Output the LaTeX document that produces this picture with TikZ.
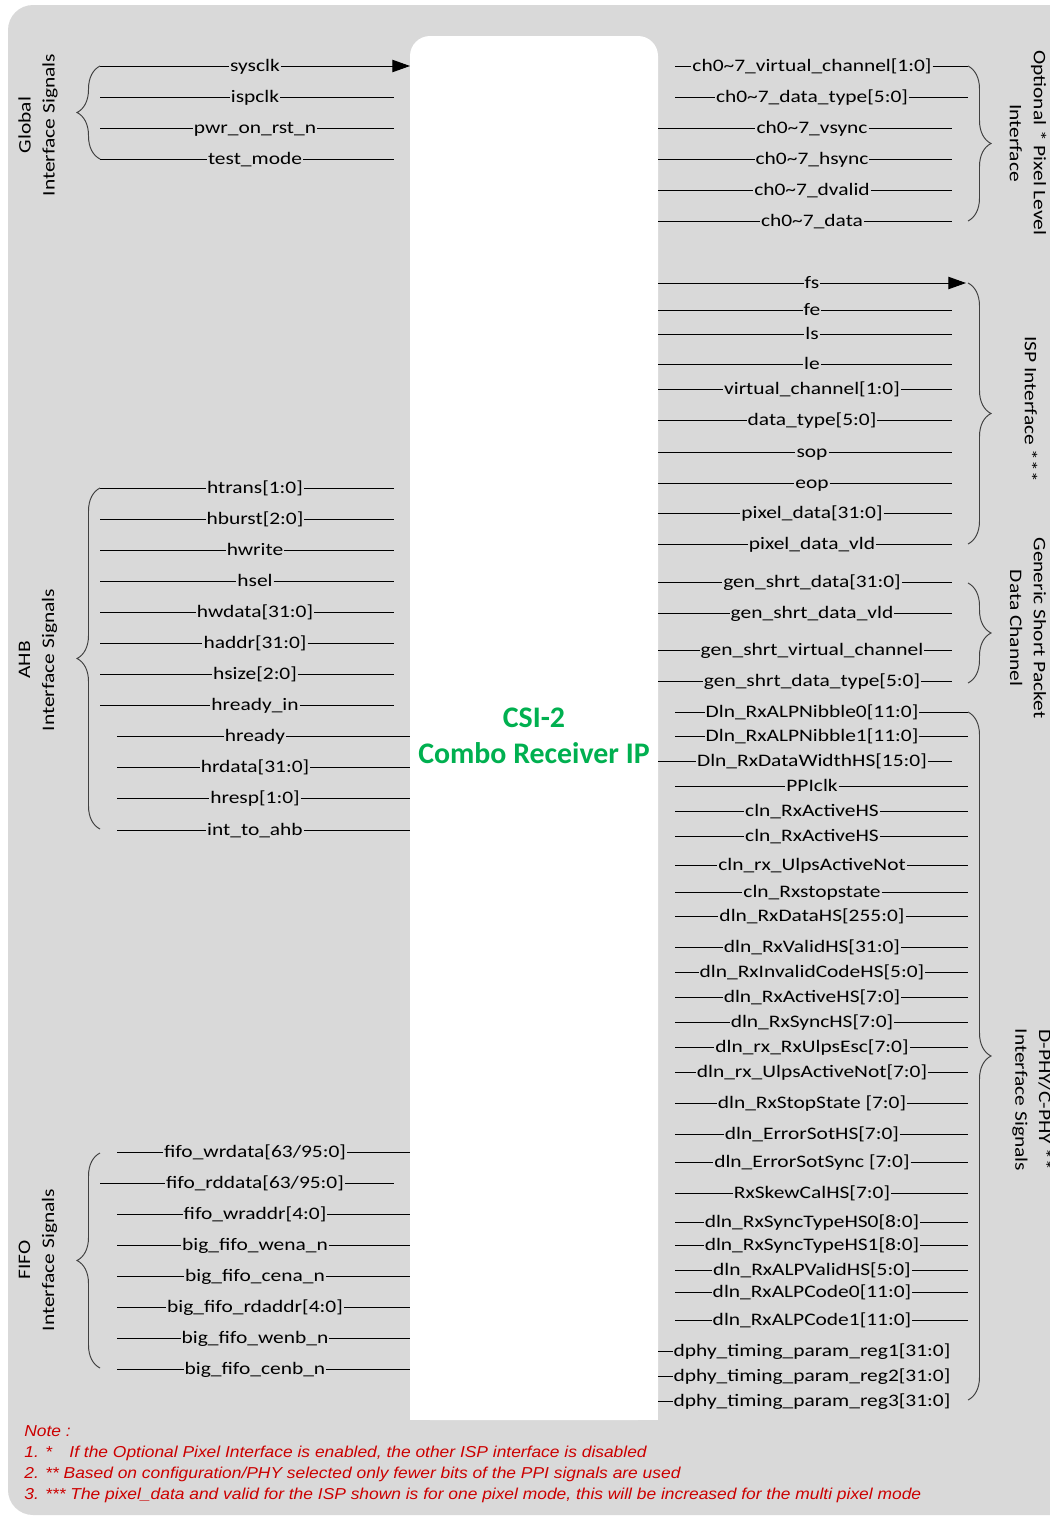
\documentclass[tikz,border=0pt]{standalone}
\usepackage{fontspec}
\setmainfont{Carlito}
\newfontfamily\sigfont[FakeStretch=1.22]{Carlito}
\newfontfamily\notefont[FakeStretch=1.1]{Liberation Sans}
\usetikzlibrary{positioning,arrows.meta,decorations.pathreplacing}

\definecolor{panelgray}{RGB}{217,217,217}
\definecolor{csigreen}{RGB}{0,176,80}
\definecolor{notered}{RGB}{204,0,0}

\begin{document}
\begin{tikzpicture}[x=0.02cm,y=-0.02cm,
    sig/.style={inner xsep=0.4pt,inner ysep=0pt,text height=8pt,text depth=1.2pt,
        font=\sigfont\fontsize{10}{12}\selectfont},
    wire/.style={line width=0.55pt,black},
    sigarrow/.style={wire,-{Triangle[length=10pt,width=7pt]}},
    grplabel/.style={align=center,font=\sigfont\fontsize{10}{13.6}\selectfont},
    lbrace/.style={decorate,decoration={brace,amplitude=0.46cm},black!75,line width=0.55pt},
    note/.style={anchor=base west,inner sep=0pt,text=notered,
        font=\notefont\itshape\fontsize{9}{11}\selectfont}]
    \useasboundingbox (0,0) rectangle (1049,1518);

    % Panel and IP block
    \fill[panelgray,rounded corners=0.5cm] (8,5) rectangle (1090,1515);
    \fill[white,rounded corners=0.4cm] (410,36) rectangle (658,1420);
    \fill[white] (410,1380) rectangle (658,1420);
    \node[font=\bfseries\fontsize{17}{20.5}\selectfont,text=csigreen,align=center] (ip) at (534,736) {CSI-2\\Combo Receiver IP};

    % Global interface signals
    \foreach \y/\txt/\xa/\xb/\tp [count=\i] in {66/sysclk/100/410/sigarrow, 97/ispclk/100/394/wire,
        128/pwr\_on\_rst\_n/100/394/wire, 159/test\_mode/100/394/wire} {
        \coordinate (glbA\i) at (\xa,\y);
        \coordinate (glbB\i) at (\xb,\y);
        \node[sig] (glb\i) at (255,\y) {\txt};
        \draw[wire] (glbA\i) -- (glb\i);
        \draw[\tp] (glb\i) -- (glbB\i);
    }
    \coordinate (glbTop) at (100,66);
    \coordinate (glbBot) at (100,159);
    \draw[lbrace] (glbBot) -- (glbTop);
    \node[grplabel,rotate=90] (glbLbl) at (38,125) {Global\\Interface Signals};

    % AHB interface signals
    \foreach \y/\txt/\xa/\xb [count=\i] in {488/htrans[1:0]/100/394, 519/hburst[2:0]/100/394,
        550/hwrite/100/394, 581/hsel/100/394, 612/hwdata[31:0]/100/394, 643/haddr[31:0]/100/394,
        674/hsize[2:0]/100/394, 705/hready\_in/100/394, 736/hready/117/410,
        767/hrdata[31:0]/117/410, 798/hresp[1:0]/117/410, 830/int\_to\_ahb/117/410} {
        \coordinate (ahbA\i) at (\xa,\y);
        \coordinate (ahbB\i) at (\xb,\y);
        \node[sig] (ahb\i) at (255,\y) {\txt};
        \draw[wire] (ahbA\i) -- (ahb\i) -- (ahbB\i);
    }
    \coordinate (ahbTop) at (100,488);
    \coordinate (ahbBot) at (100,829);
    \draw[lbrace] (ahbBot) -- (ahbTop);
    \node[grplabel,rotate=90] (ahbLbl) at (38,660) {AHB\\Interface Signals};

    % FIFO interface signals
    \foreach \y/\txt/\xa/\xb [count=\i] in {1152/{fifo\_wrdata[63/95:0]}/117/410,
        1183/{fifo\_rddata[63/95:0]}/100/394, 1214/fifo\_wraddr[4:0]/117/410,
        1245/big\_fifo\_wena\_n/117/410, 1276/big\_fifo\_cena\_n/117/410,
        1307/big\_fifo\_rdaddr[4:0]/117/410, 1338/big\_fifo\_wenb\_n/117/410,
        1369/big\_fifo\_cenb\_n/117/410} {
        \coordinate (fifoA\i) at (\xa,\y);
        \coordinate (fifoB\i) at (\xb,\y);
        \node[sig] (fifo\i) at (255,\y) {\txt};
        \draw[wire] (fifoA\i) -- (fifo\i) -- (fifoB\i);
    }
    \coordinate (fifoTop) at (100,1153);
    \coordinate (fifoBot) at (100,1368);
    \draw[lbrace] (fifoBot) -- (fifoTop);
    \node[grplabel,rotate=90] (fifoLbl) at (38,1260) {FIFO\\Interface Signals};

    % Optional pixel level interface
    \foreach \y/\txt/\xa/\xb [count=\i] in {66/ch0\textasciitilde 7\_virtual\_channel[1:0]/675/968,
        97/ch0\textasciitilde 7\_data\_type[5:0]/675/968, 128/ch0\textasciitilde 7\_vsync/658/952,
        159/ch0\textasciitilde 7\_hsync/658/952, 190/ch0\textasciitilde 7\_dvalid/658/952,
        221/ch0\textasciitilde 7\_data/658/952} {
        \coordinate (optA\i) at (\xa,\y);
        \coordinate (optB\i) at (\xb,\y);
        \node[sig] (opt\i) at (812,\y) {\txt};
        \draw[wire] (optA\i) -- (opt\i) -- (optB\i);
    }
    \coordinate (optTop) at (968,66);
    \coordinate (optBot) at (968,221);
    \draw[lbrace] (optTop) -- (optBot);
    \node[grplabel,rotate=-90] (optLbl) at (1028,143) {Optional * Pixel Level\\Interface};

    % ISP interface
    \foreach \y/\txt [count=\i] in {283/fs, 310/fe, 334/ls, 364/le,
        389/virtual\_channel[1:0], 420/data\_type[5:0], 452/sop, 483/eop,
        513/pixel\_data[31:0], 544/pixel\_data\_vld} {
        \coordinate (ispA\i) at (658,\y);
        \coordinate (ispB\i) at (952,\y);
        \node[sig] (isp\i) at (812,\y) {\txt};
        \draw[wire] (ispA\i) -- (isp\i) -- (ispB\i);
    }
    \coordinate (ispTip) at (966,283);
    \draw[sigarrow] (isp1) -- (ispTip);
    \coordinate (ispTop) at (968,283);
    \coordinate (ispBot) at (968,544);
    \draw[lbrace] (ispTop) -- (ispBot);
    \node[grplabel,rotate=-90] (ispLbl) at (1031,409) {ISP Interface ***};

    % Generic short packet data channel
    \foreach \y/\txt [count=\i] in {582/gen\_shrt\_data[31:0], 613/gen\_shrt\_data\_vld,
        650/gen\_shrt\_virtual\_channel, 681/gen\_shrt\_data\_type[5:0]} {
        \coordinate (genA\i) at (658,\y);
        \coordinate (genB\i) at (952,\y);
        \node[sig] (gen\i) at (812,\y) {\txt};
        \draw[wire] (genA\i) -- (gen\i) -- (genB\i);
    }
    \coordinate (genTop) at (968,583);
    \coordinate (genBot) at (968,683);
    \draw[lbrace] (genTop) -- (genBot);
    \node[grplabel,rotate=-90] (genLbl) at (1028,628) {Generic Short Packet\\Data Channel};

    % D-PHY/C-PHY interface signals
    \foreach \y/\txt/\xa/\xb [count=\i] in {712/Dln\_RxALPNibble0[11:0]/675/968,
        736/Dln\_RxALPNibble1[11:0]/675/968, 761/Dln\_RxDataWidthHS[15:0]/658/952,
        786/PPIclk/675/968, 811/cln\_RxActiveHS/675/968, 836/cln\_RxActiveHS/675/968,
        865/cln\_rx\_UlpsActiveNot/675/968, 892/cln\_Rxstopstate/675/968,
        916/dln\_RxDataHS[255:0]/675/968, 947/dln\_RxValidHS[31:0]/675/968,
        972/dln\_RxInvalidCodeHS[5:0]/675/968, 997/dln\_RxActiveHS[7:0]/675/968,
        1022/dln\_RxSyncHS[7:0]/675/968, 1047/dln\_rx\_RxUlpsEsc[7:0]/675/968,
        1072/dln\_rx\_UlpsActiveNot[7:0]/675/968, 1103/dln\_RxStopState [7:0]/675/968,
        1134/dln\_ErrorSotHS[7:0]/675/968, 1162/dln\_ErrorSotSync [7:0]/675/968,
        1193/RxSkewCalHS[7:0]/675/968, 1222/dln\_RxSyncTypeHS0[8:0]/675/968,
        1245/dln\_RxSyncTypeHS1[8:0]/675/968, 1270/dln\_RxALPValidHS[5:0]/675/968,
        1292/dln\_RxALPCode0[11:0]/675/968, 1320/dln\_RxALPCode1[11:0]/675/968} {
        \coordinate (phyA\i) at (\xa,\y);
        \coordinate (phyB\i) at (\xb,\y);
        \node[sig] (phy\i) at (812,\y) {\txt};
        \draw[wire] (phyA\i) -- (phy\i) -- (phyB\i);
    }
    \foreach \y [count=\i] in {1351,1376,1401} {
        \coordinate (timA\i) at (658,\y);
        \node[sig] (tim\i) at (812,\y) {dphy\_timing\_param\_reg\i[31:0]};
        \draw[wire] (timA\i) -- (tim\i);
    }
    \coordinate (phyTop) at (968,712);
    \coordinate (phyBot) at (968,1400);
    \draw[lbrace] (phyTop) -- (phyBot);
    \node[grplabel,rotate=-90] (phyLbl) at (1032,1100) {D-PHY/C-PHY **\\Interface Signals};

    % Notes
    \node[note] (note0) at (24,1436) {Note :};
    \node[note] (note1) at (24,1457) {1. *\hspace{1.1em}If the Optional Pixel Interface is enabled, the other ISP interface is disabled};
    \node[note] (note2) at (24,1478) {2. ** Based on configuration/PHY selected only fewer bits of the PPI signals are used};
    \node[note] (note3) at (24,1499) {3. *** The pixel\_data and valid for the ISP shown is for one pixel mode, this will be increased for the multi pixel mode};
\end{tikzpicture}
\end{document}
